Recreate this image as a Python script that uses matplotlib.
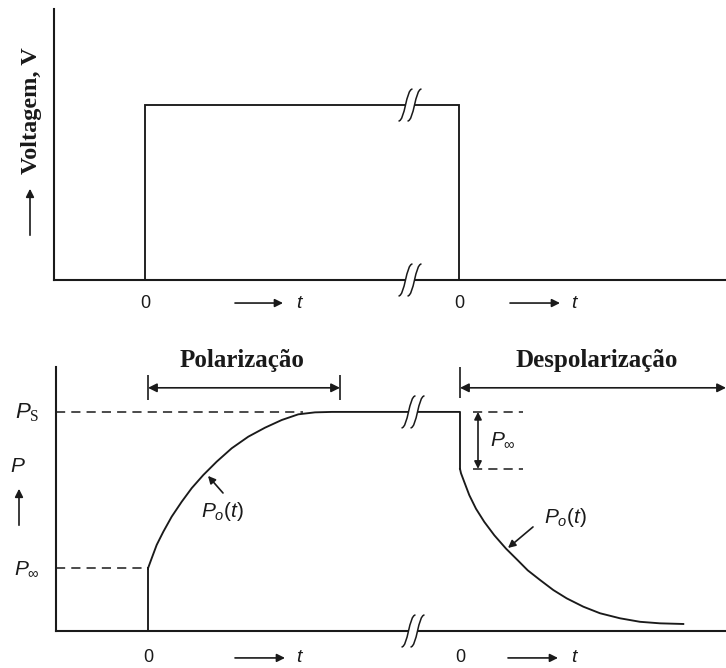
import matplotlib
matplotlib.use("Agg")
import matplotlib.pyplot as plt
from matplotlib.path import Path
from matplotlib.patches import PathPatch, Rectangle, FancyArrowPatch
from matplotlib.transforms import ScaledTranslation

plt.rcParams['font.family'] = ['Liberation Sans', 'DejaVu Sans']
plt.rcParams['mathtext.fontset'] = 'custom'
plt.rcParams['mathtext.it'] = 'Liberation Sans:italic'
plt.rcParams['mathtext.rm'] = 'Liberation Sans'
plt.rcParams['mathtext.sf'] = 'Liberation Serif'

# ---------------- data ----------------
# top panel: applied voltage step (t, V)
volt_t = [0.0, 0.0, 3.14, 3.14]
volt_v = [0.0, 1.0, 1.0, 0.0]
volt_break_t = 2.65
volt_zero_ticks = [0.0, 3.14]

# bottom panel: polarization
P_s = 1.0
P_inf = 0.288
P_after_drop = 0.74
t_off = 3.12          # position of the second time origin
pol_break_t = 2.65

rise_t = [0.0, 0.037, 0.087, 0.153, 0.237, 0.337, 0.437, 0.553, 0.687, 0.837,
          1.003, 1.17, 1.337, 1.503, 1.67, 1.84]
rise_P = [0.286, 0.332, 0.393, 0.453, 0.522, 0.590, 0.652, 0.712, 0.773, 0.834,
          0.887, 0.928, 0.963, 0.989, 0.998, 1.0]

decay_t = [0.0, 0.01, 0.043, 0.093, 0.16, 0.243, 0.343, 0.46, 0.577, 0.677, 0.80,
           0.933, 1.067, 1.233, 1.40, 1.60, 1.80, 2.00, 2.233]
decay_P = [0.74, 0.72, 0.680, 0.620, 0.558, 0.498, 0.437, 0.376, 0.323, 0.277, 0.233,
           0.187, 0.149, 0.111, 0.081, 0.058, 0.042, 0.035, 0.032]

tick_labels = ["0", "0"]

LW = 1.35
INK = "#1a1a1a"

fig = plt.figure(figsize=(7.26, 6.68), dpi=100)
W, H = 726.0, 668.0


def break_mark(ax, x, y):
    tr = fig.dpi_scale_trans + ScaledTranslation(x, y, ax.transData)
    s = 1 / 100.0
    ax.add_patch(Rectangle((-4 * s, -2.5 * s), 8 * s, 5 * s, transform=tr,
                           facecolor="white", edgecolor="none", zorder=5, clip_on=False))
    for dx in (-4.5, 4.5):
        verts = [((dx - 7) * s, -16 * s), ((dx - 0.5) * s, -16 * s),
                 ((dx + 0.5) * s, 16 * s), ((dx + 7) * s, 16 * s)]
        p = Path(verts, [Path.MOVETO, Path.CURVE4, Path.CURVE4, Path.CURVE4])
        ax.add_patch(PathPatch(p, transform=tr, fill=False, lw=1.1, edgecolor=INK,
                               zorder=6, clip_on=False))


def style_axes(ax):
    for sp in ("top", "right"):
        ax.spines[sp].set_visible(False)
    for sp in ("left", "bottom"):
        ax.spines[sp].set_linewidth(1.5)
        ax.spines[sp].set_color(INK)
    ax.set_yticks([])
    ax.tick_params(axis="x", length=0, labelsize=13, colors=INK)


def arrow(ax, xy, xytext, style="-|>", ms=12, **kw):
    ax.annotate("", xy=xy, xytext=xytext,
                arrowprops=dict(arrowstyle=style, lw=1.2, color=INK, mutation_scale=ms,
                                shrinkA=0, shrinkB=0), annotation_clip=False, **kw)


# ---------------- top panel ----------------
ax1 = fig.add_axes([54 / W, (H - 280) / H, 672 / W, 271 / H])
ax1.set_xlim(-0.91, 5.81)
ax1.set_ylim(0, 1.549)
style_axes(ax1)
ax1.set_xticks(volt_zero_ticks)
ax1.set_xticklabels(tick_labels)
ax1.tick_params(axis="x", pad=11)
ax1.plot(volt_t, volt_v, color=INK, lw=LW, clip_on=False, zorder=3, solid_joinstyle="miter")
break_mark(ax1, volt_break_t, 1.0)
break_mark(ax1, volt_break_t, 0.0)

tr1 = ax1.get_xaxis_transform()
for a0, a1, tl in [(0.90, 1.38, 1.55), (3.65, 4.15, 4.30)]:
    arrow(ax1, (a1, -0.085), (a0, -0.085), xycoords=tr1, textcoords=tr1)
    ax1.text(tl, -0.085, "$t$", transform=tr1, fontsize=14, ha="center", va="center", color=INK)

fig.text(31 / W, 1 - 111 / H, "Voltagem, V", rotation=90, ha="center", va="center",
         fontsize=17.5, fontweight="bold", family="Liberation Serif", color=INK)
fig.add_artist(FancyArrowPatch((30 / W, 1 - 238 / H), (30 / W, 1 - 186 / H),
               transform=fig.transFigure, arrowstyle="-|>", mutation_scale=12, lw=1.2, color=INK))

# ---------------- bottom panel ----------------
ax2 = fig.add_axes([56 / W, (H - 631) / H, 670 / W, 264 / H])
ax2.set_xlim(-0.92, 5.78)
ax2.set_ylim(0, 1.205)
style_axes(ax2)
ax2.set_xticks([0.0, t_off])
ax2.set_xticklabels(tick_labels)
ax2.tick_params(axis="x", pad=13)

# polarization curve
ax2.plot([0, 0] + rise_t + [t_off, t_off],
         [0, P_inf] + rise_P + [P_s, P_after_drop], color=INK, lw=LW, zorder=3,
         solid_joinstyle="round")
ax2.plot([t_off + v for v in decay_t], decay_P, color=INK, lw=LW, zorder=3,
         solid_joinstyle="round")

# dashed reference levels
dash = dict(color=INK, lw=1.1, linestyle=(0, (6, 4)))
ax2.plot([-0.92, 1.55], [P_s, P_s], **dash, zorder=2)
ax2.plot([-0.92, 0], [P_inf, P_inf], **dash, zorder=2)
ax2.plot([t_off + 0.13, t_off + 0.63], [P_s, P_s], **dash)
ax2.plot([t_off + 0.13, t_off + 0.63], [P_after_drop, P_after_drop], **dash)
arrow(ax2, (t_off + 0.18, P_s), (t_off + 0.18, P_after_drop), style="<|-|>", ms=11)
ax2.text(t_off + 0.30, 0.872, r"$P_{\infty}$", fontsize=15, ha="left", va="center", color=INK)

break_mark(ax2, pol_break_t, P_s)
break_mark(ax2, pol_break_t, 0.0)

# dimension arrows
dim_y = 1.11
arrow(ax2, (1.92, dim_y), (0, dim_y), style="<|-|>", ms=13)
ax2.vlines([0, 1.92], 1.055, 1.169, color=INK, lw=1.2)
ax2.text(0.94, 1.235, "Polarização", fontsize=18, fontweight="bold", family="Liberation Serif",
         ha="center", va="center", color=INK, clip_on=False)

arrow(ax2, (5.78, dim_y), (t_off, dim_y), style="<|-|>", ms=13)
ax2.vlines([t_off], 1.064, 1.205, color=INK, lw=1.2, clip_on=False)
ax2.text(t_off + 1.37, 1.235, "Despolarização", fontsize=18, fontweight="bold",
         family="Liberation Serif", ha="center", va="center", color=INK, clip_on=False)

# curve labels
arrow(ax2, (0.60, 0.708), (0.75, 0.630), ms=11)
ax2.text(0.74, 0.545, r"$P_o(t)$", fontsize=15, ha="center", va="center", color=INK)
arrow(ax2, (3.60, 0.379), (3.85, 0.475), ms=11)
ax2.text(4.17, 0.52, r"$P_o(t)$", fontsize=15, ha="center", va="center", color=INK)

# y-side labels
fig.text(27 / W, 1 - 413 / H, r"$P_{\mathsf{S}}$", fontsize=16, ha="center", va="center", color=INK)
fig.text(27 / W, 1 - 569 / H, r"$P_{\infty}$", fontsize=15, ha="center", va="center", color=INK)
fig.text(18 / W, 1 - 467 / H, r"$P$", fontsize=15, ha="center", va="center", color=INK)
fig.add_artist(FancyArrowPatch((19 / W, 1 - 528 / H), (19 / W, 1 - 486 / H),
               transform=fig.transFigure, arrowstyle="-|>", mutation_scale=12, lw=1.2, color=INK))

tr2 = ax2.get_xaxis_transform()
for a0, a1, tl in [(0.87, 1.37, 1.52), (3.60, 4.10, 4.27)]:
    arrow(ax2, (a1, -0.102), (a0, -0.102), xycoords=tr2, textcoords=tr2)
    ax2.text(tl, -0.102, "$t$", transform=tr2, fontsize=14, ha="center", va="center", color=INK)

fig.savefig("out.png", dpi=100, facecolor="white")
